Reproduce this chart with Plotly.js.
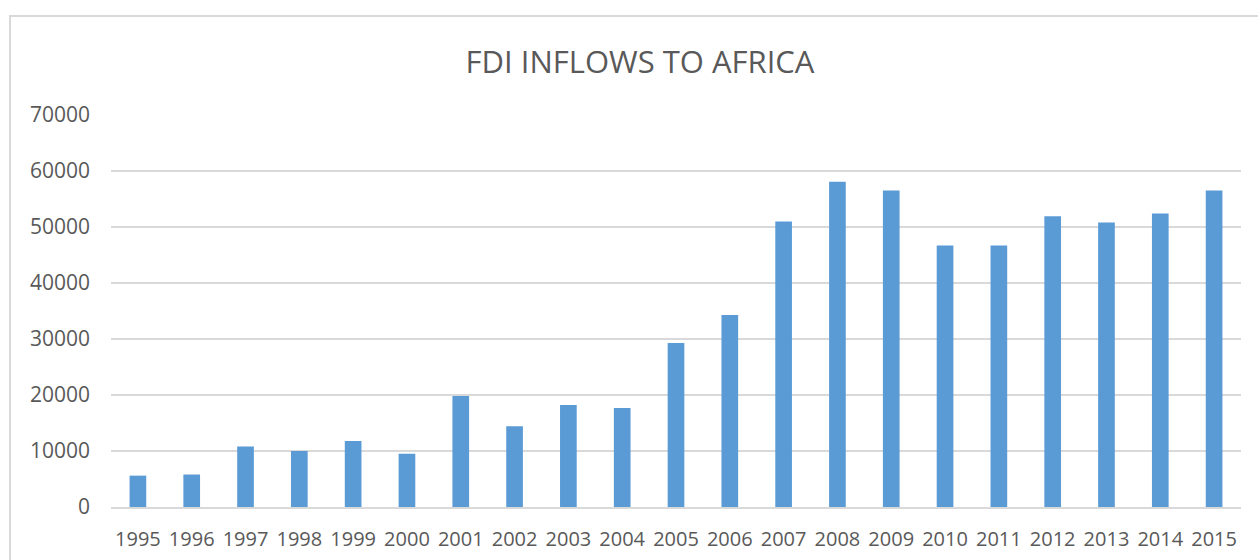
<!DOCTYPE html>
<html>
<head>
<meta charset="utf-8">
<script src="https://cdn.plot.ly/plotly-3.0.1.min.js"></script>
<style>
html,body{margin:0;padding:0;background:#fff;}
#chart{width:1258px;height:560px;}
</style>
</head>
<body>
<div id="chart"></div>
<script>
const years = ["1995","1996","1997","1998","1999","2000","2001","2002","2003","2004","2005","2006","2007","2008","2009","2010","2011","2012","2013","2014","2015"];
const fdiInflows = [5600,5800,10800,10000,11800,9500,19800,14400,18200,17700,29300,34300,51000,58100,56500,46700,46700,51900,50800,52400,56500];
const yTicks = [0,10000,20000,30000,40000,50000,60000,70000];

const W = 1258, H = 560;
const mL = 111, mR = 17, mT = 115, mB = 53;
const plotW = W - mL - mR, plotH = H - mT - mB;

const trace = {
  type: 'bar',
  x: years,
  y: fdiInflows,
  marker: {color: '#5b9bd5'},
  hoverinfo: 'x+y'
};

const layout = {
  width: W, height: H,
  margin: {l: mL, r: mR, t: mT, b: mB, pad: 0},
  paper_bgcolor: '#ffffff',
  plot_bgcolor: '#ffffff',
  bargap: 0.69,
  showlegend: false,
  font: {family: '"Open Sans", sans-serif', color: '#595959'},
  title: {
    text: 'FDI INFLOWS TO AFRICA',
    font: {family: '"Open Sans", sans-serif', size: 31, color: '#595959'},
    x: 640 / W, xref: 'container', xanchor: 'center',
    y: 1 - 62 / H, yref: 'container', yanchor: 'middle'
  },
  xaxis: {
    type: 'category',
    tickfont: {size: 20, color: '#595959'},
    showgrid: false,
    showline: true, linecolor: '#d9d9d9', linewidth: 2,
    ticks: '', ticklabelstandoff: 13,
    fixedrange: true
  },
  yaxis: {
    range: [0, 70000],
    tickvals: yTicks,
    ticktext: yTicks.map(String),
    tickfont: {size: 21, color: '#595959'},
    showgrid: true, gridcolor: '#d9d9d9', gridwidth: 2,
    zeroline: false,
    ticks: '', ticklabelstandoff: 20,
    fixedrange: true
  },
  shapes: [{
    type: 'rect', xref: 'paper', yref: 'paper',
    x0: (10 - mL) / plotW, x1: (W + 20 - mL) / plotW,
    y0: -(H + 20 - mT - plotH) / plotH, y1: (H - mB - 16) / plotH,
    line: {color: '#d9d9d9', width: 2},
    fillcolor: 'rgba(0,0,0,0)',
    layer: 'below'
  }]
};

Plotly.newPlot('chart', [trace], layout, {displayModeBar: false, staticPlot: true});
</script>
</body>
</html>
